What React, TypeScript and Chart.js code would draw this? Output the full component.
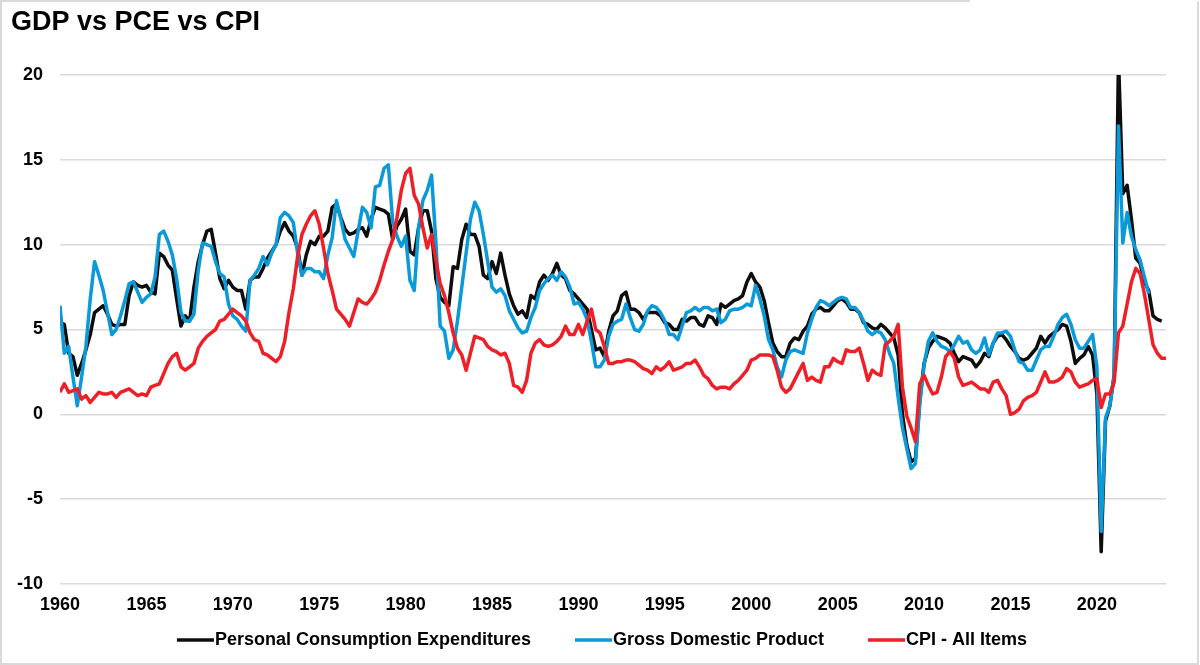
import React, { useEffect, useRef } from "react";
import { Chart, registerables } from "chart.js";

Chart.register(...registerables);

const TITLE = "GDP vs PCE vs CPI";
const START_YEAR = 1960;
const X_MIN = 1960;
const X_MAX = 2024;
const X_TICKS = [1960, 1965, 1970, 1975, 1980, 1985, 1990, 1995, 2000, 2005, 2010, 2015, 2020];
const Y_TICKS = [-10, -5, 0, 5, 10, 15, 20];
const SERIES_NAMES = ["Personal Consumption Expenditures", "Gross Domestic Product", "CPI - All Items"];
const SERIES_COLORS = ["#0d0d0d", "#0a9ad9", "#ee1f27"];

// Quarterly YoY % change, starting 1960 Q1
const PCE = [
  5.4, 5.3, 3.6, 3.4, 2.3, 3.0, 3.8, 4.7, 6.0, 6.2,
  6.4, 5.9, 5.3, 5.2, 5.3, 5.3, 7.0, 7.8, 7.6, 7.5,
  7.6, 7.2, 7.1, 9.5, 9.3, 8.8, 8.5, 6.8, 5.2, 5.8,
  5.5, 7.5, 9.0, 10.0, 10.8, 10.9, 9.5, 8.0, 7.4, 7.9,
  7.5, 7.3, 7.3, 6.2, 7.9, 8.1, 8.1, 8.6, 9.2, 9.6,
  10.0, 10.8, 11.3, 10.8, 10.5, 9.8, 8.2, 9.4, 10.2, 10.0,
  10.5, 10.5, 10.8, 12.2, 12.4, 11.6, 10.9, 10.6, 10.7, 10.9,
  11.0, 10.5, 11.5, 12.2, 12.1, 12.0, 11.8, 10.3, 11.1, 11.5,
  12.1, 9.6, 9.4, 11.0, 12.0, 12.0, 10.8, 8.0, 6.9, 6.6,
  6.4, 8.7, 8.6, 10.3, 11.2, 10.6, 10.6, 9.9, 8.2, 8.0,
  9.0, 8.3, 9.5, 8.2, 7.1, 6.4, 5.9, 6.1, 5.7, 7.0,
  6.8, 7.8, 8.2, 7.9, 8.3, 8.9, 8.2, 8.0, 7.3, 7.1,
  6.8, 6.5, 6.2, 5.0, 3.8, 3.9, 3.4, 4.9, 5.8, 6.1,
  7.0, 7.2, 6.2, 6.2, 6.0, 5.6, 6.0, 6.0, 6.0, 5.8,
  5.4, 5.3, 5.0, 5.0, 5.6, 5.5, 5.7, 5.7, 5.3, 5.2,
  5.8, 5.7, 5.3, 6.5, 6.3, 6.5, 6.7, 6.8, 7.0, 7.8,
  8.3, 7.8, 7.5, 6.7, 5.4, 4.2, 3.7, 3.4, 3.4, 4.2,
  4.5, 4.4, 4.9, 5.2, 5.9, 6.2, 6.3, 6.1, 6.1, 6.4,
  6.7, 6.8, 6.6, 6.2, 6.2, 6.0, 5.4, 5.3, 5.1, 5.0,
  5.3, 5.1, 4.8, 4.5, 3.5, 0.0, -1.8, -2.8, -2.6, 0.8,
  3.0, 3.9, 4.3, 4.6, 4.5, 4.4, 4.2, 3.6, 3.1, 3.4,
  3.3, 3.2, 2.8, 3.1, 3.6, 3.4, 4.2, 4.6, 4.7, 4.4,
  4.0, 3.7, 3.3, 3.2, 3.3, 3.6, 3.9, 4.6, 4.2, 4.6,
  4.8, 5.0, 5.3, 5.2, 4.3, 3.0, 3.3, 3.5, 4.0, 3.5,
  1.2, -8.1, -0.4, 0.5, 2.3, 21.0, 13.0, 13.5, 11.5, 9.2,
  8.9, 7.8, 7.3, 5.8, 5.6, 5.5,
];

const GDP = [
  6.4, 3.6, 4.0, 2.2, 0.5, 2.2, 4.0, 6.8, 9.0, 8.2,
  7.3, 6.0, 4.7, 5.0, 5.8, 6.7, 7.7, 7.8, 7.2, 6.6,
  6.9, 7.1, 8.1, 10.6, 10.8, 10.2, 9.4, 8.0, 6.0, 5.5,
  5.5, 5.9, 8.5, 10.1, 10.0, 9.9, 9.0, 8.3, 8.1, 6.5,
  5.8, 5.6, 5.2, 4.9, 7.9, 8.2, 8.6, 9.3, 8.8, 9.5,
  10.0, 11.6, 11.9, 11.7, 11.3, 9.5, 8.2, 8.6, 8.6, 8.4,
  8.4, 8.0, 9.4, 10.4, 12.6, 11.5, 10.3, 9.8, 9.3, 10.8,
  12.2, 11.9, 11.0, 13.4, 13.5, 14.5, 14.7, 11.4, 10.5, 9.9,
  10.5, 7.9, 7.3, 11.0, 12.6, 13.2, 14.1, 10.2, 5.2, 4.9,
  3.3, 3.8, 5.5, 7.5, 9.5, 11.5, 12.5, 12.0, 10.6, 9.0,
  7.5, 7.2, 7.4, 7.0, 6.1, 5.6, 5.1, 4.8, 4.9, 5.7,
  6.3, 7.3, 7.7, 8.0, 8.2, 7.9, 8.4, 8.1, 7.5, 6.5,
  6.6, 6.2, 5.6, 4.3, 2.8, 2.8, 3.2, 4.6, 5.3, 5.5,
  5.6, 6.5, 5.7, 5.0, 4.9, 5.3, 6.1, 6.4, 6.3, 6.0,
  5.5, 4.7, 4.7, 4.4, 5.2, 6.0, 6.1, 6.3, 6.1, 6.3,
  6.3, 6.1, 6.2, 5.4, 5.6, 6.1, 6.2, 6.2, 6.3, 6.5,
  6.4, 7.6, 6.8, 5.8, 4.4, 3.8, 2.8, 2.2, 3.2, 3.7,
  3.8, 3.7, 3.6, 4.8, 5.6, 6.3, 6.7, 6.6, 6.4, 6.6,
  6.8, 6.9, 6.8, 6.3, 6.3, 6.0, 5.5, 4.9, 4.7, 4.9,
  4.8, 4.4, 3.6, 3.0, 1.0, -0.8, -2.0, -3.2, -2.9, 0.6,
  2.9, 4.3, 4.8, 4.3, 4.0, 3.9, 3.7, 4.1, 4.6, 4.2,
  4.3, 3.8, 3.6, 3.8, 4.5, 3.5, 4.2, 4.8, 4.8, 4.9,
  4.6, 3.8, 3.1, 3.0, 2.6, 2.6, 3.2, 3.8, 4.0, 4.0,
  4.6, 5.3, 5.7, 5.9, 5.3, 4.4, 3.9, 3.9, 4.3, 4.7,
  2.8, -6.9, -0.2, 0.5, 2.3, 17.0, 10.1, 11.9, 10.5, 9.7,
  9.1, 8.1, 7.1,
];

const CPI = [
  1.3, 1.8, 1.3, 1.4, 1.5, 0.9, 1.1, 0.7, 1.0, 1.3,
  1.2, 1.2, 1.3, 1.0, 1.3, 1.4, 1.5, 1.3, 1.1, 1.2,
  1.1, 1.6, 1.7, 1.8, 2.4, 3.0, 3.4, 3.6, 2.8, 2.6,
  2.8, 3.0, 3.9, 4.3, 4.6, 4.8, 5.0, 5.5, 5.6, 5.9,
  6.2, 6.0, 5.8, 5.5, 4.8, 4.4, 4.3, 3.6, 3.5, 3.3,
  3.1, 3.4, 4.3, 6.0, 7.4, 9.3, 10.6, 11.2, 11.7, 12.0,
  11.2, 9.8, 8.3, 7.3, 6.2, 5.9, 5.6, 5.2, 6.0, 6.8,
  6.6, 6.5, 6.8, 7.2, 7.9, 8.8, 9.6, 10.3, 11.6, 13.2,
  14.2, 14.5, 12.9, 12.4, 11.0, 9.8, 10.6, 9.1, 7.7, 7.0,
  6.0, 4.8, 3.9, 3.5, 2.6, 3.6, 4.6, 4.5, 4.4, 4.0,
  3.8, 3.7, 3.5, 3.6, 3.0, 1.7, 1.6, 1.3, 2.0, 3.6,
  4.2, 4.4, 4.1, 4.0, 4.1, 4.3, 4.6, 5.2, 4.7, 4.7,
  5.3, 4.7, 5.5, 6.2, 5.0, 4.8, 4.0, 3.0, 3.0, 3.1,
  3.1, 3.2, 3.2, 3.1, 2.9, 2.7, 2.6, 2.4, 2.8, 2.6,
  2.8, 3.1, 2.6, 2.7, 2.8, 3.0, 3.0, 3.2, 2.8, 2.3,
  2.1, 1.7, 1.5, 1.6, 1.6, 1.5, 1.8, 2.0, 2.3, 2.6,
  3.2, 3.3, 3.5, 3.5, 3.5, 3.4, 2.6, 1.6, 1.3, 1.5,
  2.0, 2.5, 3.0, 2.0, 2.2, 2.0, 1.9, 2.8, 2.8, 3.3,
  3.1, 3.0, 3.8, 3.7, 3.7, 3.9, 3.0, 2.0, 2.6, 2.4,
  2.3, 4.1, 4.3, 4.6, 5.3, 1.6, -0.1, -0.8, -1.6, 1.8,
  2.3, 1.7, 1.2, 1.3, 2.2, 3.4, 3.7, 3.3, 2.2, 1.7,
  1.8, 1.9, 1.7, 1.5, 1.5, 1.3, 1.9, 2.0, 1.5, 1.1,
  0.0, 0.1, 0.3, 0.8, 1.0, 1.1, 1.3, 1.9, 2.5, 1.9,
  1.9, 2.0, 2.2, 2.7, 2.5, 1.9, 1.6, 1.7, 1.8, 2.0,
  2.1, 0.4, 1.2, 1.2, 1.9, 4.8, 5.2, 6.5, 7.8, 8.6,
  8.3, 7.1, 5.6, 4.1, 3.6, 3.3, 3.3,
];

const FONT = "'Liberation Sans', Arial, Helvetica, sans-serif";

function toPoints(values: number[]) {
  return values.map((y, i) => ({ x: START_YEAR + i / 4, y }));
}

const decorPlugin = {
  id: "decor",
  afterDraw(chart: any) {
    const ctx = chart.ctx as CanvasRenderingContext2D;
    ctx.save();
    // frame
    ctx.strokeStyle = "#d9d9d9";
    ctx.lineWidth = 2;
    ctx.beginPath();
    ctx.moveTo(970, 1);
    ctx.lineTo(1, 1);
    ctx.lineTo(1, 664);
    ctx.lineTo(1198, 664);
    ctx.lineTo(1198, 1);
    ctx.stroke();

    // title
    ctx.fillStyle = "#000";
    ctx.font = `bold 27px ${FONT}`;
    ctx.textBaseline = "alphabetic";
    ctx.textAlign = "left";
    ctx.fillText(TITLE, 11, 30);

    // legend
    ctx.font = `bold 18px ${FONT}`;
    const lineLen = 37;
    const gapText = 1;
    const gapItem = 44;
    const widths = SERIES_NAMES.map((n) => ctx.measureText(n).width);
    const total =
      widths.reduce((a, b) => a + b, 0) + SERIES_NAMES.length * (lineLen + gapText) + gapItem * (SERIES_NAMES.length - 1);
    let x = 602 - total / 2;
    const yLine = 640;
    const yText = 645;
    SERIES_NAMES.forEach((name, i) => {
      ctx.strokeStyle = SERIES_COLORS[i];
      ctx.lineWidth = 3.5;
      ctx.beginPath();
      ctx.moveTo(x, yLine);
      ctx.lineTo(x + lineLen, yLine);
      ctx.stroke();
      ctx.fillStyle = "#000";
      ctx.fillText(name, x + lineLen + gapText, yText);
      x += lineLen + gapText + widths[i] + gapItem;
    });
    ctx.restore();
  },
};

export default function App() {
  const canvasRef = useRef<HTMLCanvasElement | null>(null);

  useEffect(() => {
    if (!canvasRef.current) return;
    const datasets = [PCE, GDP, CPI].map((vals, i) => ({
      label: SERIES_NAMES[i],
      data: toPoints(vals),
      borderColor: SERIES_COLORS[i],
      backgroundColor: SERIES_COLORS[i],
      borderWidth: 3.5,
      pointRadius: 0,
      tension: 0,
      fill: false,
      order: 3 - i,
      borderJoinStyle: "round" as const,
    }));
    const chart = new Chart(canvasRef.current, {
      type: "line",
      data: { datasets },
      options: {
        animation: false,
        responsive: false,
        maintainAspectRatio: false,
        devicePixelRatio: 1,
        layout: { padding: { top: 75, left: 0, right: 34, bottom: 41 } },
        plugins: {
          legend: { display: false },
          title: { display: false },
          tooltip: { enabled: false },
        },
        scales: {
          x: {
            type: "linear",
            min: X_MIN,
            max: X_MAX,
            afterBuildTicks: (s: any) => {
              s.ticks = X_TICKS.map((v) => ({ value: v }));
            },
            afterFit: (s: any) => {
              s.height = 40;
            },
            grid: { display: false, drawTicks: false },
            border: { display: false },
            ticks: {
              autoSkip: false,
              maxRotation: 0,
              padding: 10,
              color: "#000",
              font: { family: FONT, size: 18, weight: "bold" },
              callback: (v: any) => String(v),
            },
          },
          y: {
            type: "linear",
            min: -10,
            max: 20,
            afterBuildTicks: (s: any) => {
              s.ticks = Y_TICKS.map((v) => ({ value: v }));
            },
            afterFit: (s: any) => {
              s.width = 60;
            },
            grid: { color: "#d9d9d9", lineWidth: 1.5, drawTicks: false },
            border: { display: false },
            ticks: {
              padding: 17,
              color: "#000",
              font: { family: FONT, size: 18, weight: "bold" },
              callback: (v: any) => String(v),
            },
          },
        },
      },
      plugins: [decorPlugin],
    } as any);
    return () => chart.destroy();
  }, []);

  return (
    <div style={{ position: "fixed", left: 0, top: 0, width: 1200, height: 665, background: "#fff" }}>
      <canvas ref={canvasRef} width={1200} height={665} style={{ width: 1200, height: 665, display: "block" }} />
    </div>
  );
}
